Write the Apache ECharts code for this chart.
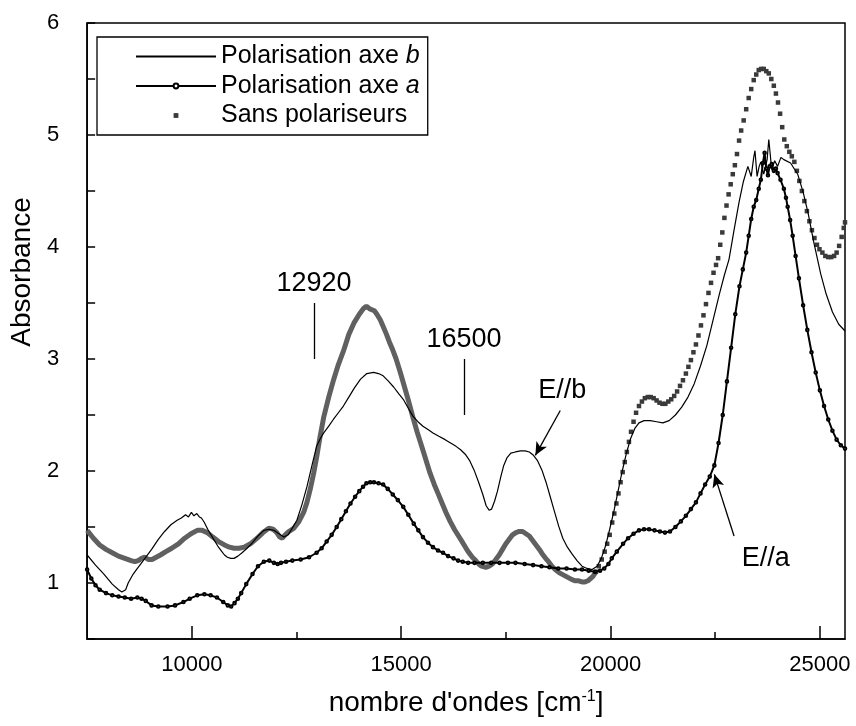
<!DOCTYPE html>
<html>
<head>
<meta charset="utf-8">
<title>Absorbance polarisée</title>
<script src="https://cdn.jsdelivr.net/npm/echarts@6/dist/echarts.min.js"></script>
<style>
  html, body { margin: 0; padding: 0; background: #fff; }
  #chart { width: 856px; height: 726px; }
</style>
</head>
<body>
<div id="chart"></div>
<script>
// Spectres d'absorbance (nombre d'ondes en cm-1)

// Polarisation axe b
const polBX = [7500,7700,7900,8100,8250,8330,8420,8480,8600,8700,8800,8920,9040,9200,9350,9500,9650,9750,9850,9920,9990,10050,10120,10180,10230,10300,10380,10460,10540,10620,10700,10780,10850,10930,11010,11100,11200,11320,11450,11580,11720,11850,11960,12080,12200,12300,12400,12510,12630,12750,12870,12980,13070,13150,13270,13380,13500,13620,13750,13880,14030,14180,14340,14460,14570,14700,14820,14940,15050,15170,15280,15400,15520,15640,15760,15900,16050,16180,16310,16420,16530,16640,16740,16850,16950,17030,17100,17160,17230,17300,17380,17450,17530,17620,17730,17850,17960,18060,18160,18260,18360,18460,18560,18660,18760,18860,18970,19080,19200,19320,19440,19560,19680,19780,19880,19980,20080,20180,20280,20380,20480,20580,20680,20800,20950,21100,21250,21400,21550,21700,21850,22000,22150,22300,22450,22600,22720,22830,22950,23070,23170,23280,23360,23420,23450,23500,23550,23590,23660,23740,23780,23850,23920,23990,24070,24140,24300,24470,24600,24720,24850,25020,25150,25300,25450,25600];
const polBY = [1.25,1.16,1.08,0.99,0.94,0.92,0.94,1.00,1.08,1.13,1.18,1.24,1.30,1.39,1.46,1.52,1.56,1.58,1.61,1.59,1.63,1.60,1.62,1.59,1.58,1.54,1.48,1.43,1.38,1.33,1.29,1.25,1.23,1.22,1.22,1.24,1.27,1.31,1.36,1.42,1.47,1.48,1.47,1.44,1.41,1.43,1.49,1.56,1.70,1.86,2.05,2.22,2.29,2.34,2.40,2.46,2.52,2.58,2.66,2.74,2.82,2.87,2.88,2.87,2.85,2.80,2.75,2.69,2.64,2.56,2.49,2.44,2.40,2.37,2.34,2.31,2.28,2.25,2.22,2.19,2.15,2.09,2.01,1.90,1.79,1.69,1.65,1.66,1.73,1.82,1.95,2.05,2.12,2.16,2.17,2.18,2.18,2.17,2.14,2.09,2.01,1.90,1.77,1.64,1.51,1.40,1.32,1.26,1.20,1.15,1.13,1.12,1.15,1.22,1.33,1.48,1.64,1.82,2.00,2.16,2.29,2.38,2.43,2.45,2.45,2.44,2.43,2.45,2.50,2.57,2.66,2.78,2.94,3.12,3.35,3.58,3.75,3.89,4.15,4.40,4.58,4.72,4.63,4.80,4.86,4.63,4.72,4.76,4.65,4.78,4.96,4.69,4.77,4.72,4.80,4.78,4.75,4.65,4.49,4.30,4.05,3.76,3.58,3.42,3.31,3.25];

// Polarisation axe a
const polAX = [7500,7600,7700,7800,7950,8100,8250,8400,8550,8700,8800,8900,9040,9200,9420,9600,9800,9950,10130,10300,10450,10600,10750,10860,10940,11020,11100,11180,11300,11450,11580,11720,11850,11960,12050,12130,12250,12400,12600,12800,12980,13100,13220,13340,13460,13570,13680,13790,13900,14000,14090,14170,14260,14350,14460,14570,14680,14800,14920,15050,15170,15300,15410,15520,15640,15760,15880,16000,16120,16250,16360,16470,16600,16750,16950,17150,17350,17550,17730,17950,18150,18350,18540,18750,18950,19150,19320,19480,19630,19750,19850,19950,20030,20150,20300,20420,20550,20680,20800,20920,21050,21180,21300,21420,21550,21680,21800,21920,22040,22150,22260,22370,22480,22580,22680,22780,22880,22980,23080,23160,23240,23300,23360,23420,23480,23540,23590,23640,23680,23720,23760,23800,23850,23900,23950,23990,24060,24140,24190,24230,24290,24350,24420,24500,24600,24700,24800,24900,25000,25100,25200,25300,25400,25500,25600];
const polAY = [1.12,1.04,0.98,0.94,0.91,0.89,0.88,0.87,0.86,0.87,0.86,0.84,0.80,0.79,0.79,0.80,0.83,0.86,0.89,0.90,0.89,0.87,0.83,0.80,0.79,0.82,0.86,0.91,0.99,1.08,1.15,1.19,1.20,1.18,1.17,1.18,1.19,1.20,1.21,1.23,1.27,1.31,1.37,1.43,1.50,1.57,1.64,1.71,1.77,1.82,1.86,1.89,1.90,1.90,1.89,1.88,1.84,1.79,1.74,1.68,1.61,1.53,1.47,1.41,1.36,1.32,1.29,1.27,1.24,1.22,1.20,1.19,1.18,1.18,1.18,1.18,1.18,1.18,1.18,1.17,1.16,1.15,1.14,1.13,1.13,1.12,1.12,1.11,1.10,1.11,1.13,1.17,1.22,1.28,1.35,1.40,1.44,1.47,1.48,1.48,1.47,1.46,1.45,1.46,1.50,1.55,1.60,1.66,1.72,1.80,1.88,1.95,2.05,2.25,2.50,2.80,3.10,3.40,3.65,3.80,3.95,4.10,4.25,4.36,4.42,4.52,4.60,4.75,4.84,4.70,4.64,4.72,4.74,4.68,4.70,4.66,4.60,4.52,4.44,4.36,4.24,4.10,3.92,3.72,3.48,3.26,3.06,2.88,2.72,2.58,2.46,2.36,2.28,2.23,2.20];

// Sans polariseurs : zone dense (trait épais)
const sansDenseX = [7500,7650,7800,7950,8100,8250,8400,8550,8640,8720,8800,8880,8960,9050,9150,9250,9380,9520,9680,9830,9980,10130,10250,10370,10500,10640,10780,10900,11010,11130,11250,11400,11560,11700,11840,11940,12030,12100,12160,12230,12320,12440,12560,12670,12750,12830,12910,12980,13060,13150,13270,13390,13500,13620,13750,13870,14000,14100,14170,14240,14300,14360,14420,14500,14570,14650,14720,14800,14880,14980,15080,15180,15280,15380,15490,15590,15690,15790,15880,15980,16070,16170,16270,16370,16470,16550,16620,16700,16780,16850,16920,17020,17100,17180,17260,17340,17420,17500,17580,17660,17740,17820,17900,17980,18060,18140,18220,18300,18370,18450,18520,18600,18680,18780,18880,18980,19080,19160,19240,19320,19390,19460,19520,19580,19650];
const sansDenseY = [1.47,1.40,1.34,1.30,1.27,1.24,1.22,1.20,1.19,1.20,1.22,1.23,1.21,1.21,1.23,1.25,1.28,1.31,1.35,1.40,1.44,1.47,1.47,1.45,1.41,1.37,1.34,1.32,1.31,1.31,1.32,1.35,1.40,1.45,1.49,1.48,1.45,1.41,1.40,1.43,1.46,1.49,1.55,1.63,1.72,1.84,1.98,2.12,2.30,2.48,2.66,2.82,2.95,3.07,3.22,3.32,3.40,3.45,3.47,3.45,3.44,3.43,3.40,3.35,3.29,3.22,3.15,3.08,3.00,2.88,2.75,2.62,2.48,2.35,2.22,2.10,1.98,1.88,1.80,1.71,1.63,1.55,1.48,1.42,1.36,1.31,1.27,1.23,1.20,1.17,1.15,1.14,1.15,1.17,1.21,1.25,1.30,1.35,1.39,1.43,1.45,1.46,1.46,1.44,1.42,1.38,1.34,1.30,1.26,1.22,1.19,1.15,1.12,1.09,1.07,1.05,1.03,1.02,1.02,1.01,1.01,1.02,1.04,1.06,1.10];

// Sans polariseurs : points isolés
const sansDotX = [19650,19720,19790,19860,19920,19980,20040,20090,20140,20190,20240,20290,20340,20390,20440,20490,20550,20610,20680,20750,20820,20890,20960,21030,21100,21170,21240,21310,21380,21450,21520,21590,21660,21730,21800,21860,21920,21980,22040,22100,22160,22220,22280,22340,22400,22460,22520,22570,22620,22670,22720,22770,22820,22870,22920,22970,23020,23070,23120,23180,23240,23300,23360,23420,23480,23540,23600,23660,23720,23780,23840,23900,23950,24000,24050,24100,24150,24210,24270,24330,24390,24450,24510,24570,24630,24690,24750,24810,24870,24930,24990,25060,25130,25200,25270,25340,25400,25460,25520,25570,25600];
const sansDotY = [1.10,1.15,1.21,1.28,1.35,1.43,1.54,1.62,1.71,1.80,1.90,1.99,2.08,2.17,2.26,2.35,2.44,2.52,2.58,2.62,2.65,2.66,2.66,2.65,2.63,2.61,2.60,2.60,2.62,2.64,2.67,2.71,2.76,2.81,2.87,2.93,2.99,3.06,3.13,3.21,3.30,3.39,3.49,3.59,3.68,3.77,3.84,3.90,4.02,4.13,4.26,4.37,4.47,4.56,4.65,4.73,4.83,4.95,5.04,5.13,5.23,5.33,5.41,5.49,5.54,5.58,5.59,5.59,5.57,5.55,5.50,5.44,5.37,5.29,5.19,5.07,4.96,4.90,4.85,4.81,4.76,4.68,4.59,4.50,4.41,4.32,4.23,4.15,4.08,4.02,3.98,3.95,3.92,3.91,3.91,3.92,3.95,4.01,4.09,4.17,4.22];

// Graduations
const xMajorTicks = [10000, 15000, 20000, 25000];
const xMinorTicks = [12500, 17500, 22500];

// Repères de bandes et flèches (coordonnées en cm-1 / absorbance)
const bandMarks = [
  { text: '12920', x: 12920, from: 3.0, to: 3.5, textY: 3.67 },
  { text: '16500', x: 16500, from: 2.5, to: 3.0, textY: 3.17 }
];
const arrowMarks = [
  { text: 'E//b', tail: [18800, 2.54], head: [18205, 2.14], label: [18850, 2.72] },
  { text: 'E//a', tail: [22950, 1.42], head: [22480, 1.97], label: [23710, 1.22] }
];

const FONT = "'Liberation Sans', Arial, Helvetica, sans-serif";
const pairs = (xs, ys) => xs.map((x, i) => [x, ys[i]]);

const markLines = [];
bandMarks.forEach(m => markLines.push([
  { coord: [m.x, m.from], symbol: 'none' },
  { coord: [m.x, m.to], symbol: 'none' }
]));
arrowMarks.forEach(m => markLines.push([
  { coord: m.tail, symbol: 'none' },
  { coord: m.head, symbol: 'arrow', symbolSize: [9, 13] }
]));

const markTexts = bandMarks.map(m => ({ name: m.text, coord: [m.x, m.textY] }))
  .concat(arrowMarks.map(m => ({ name: m.text, coord: m.label })));

const chart = echarts.init(document.getElementById('chart'), null, { renderer: 'canvas' });

chart.setOption({
  animation: false,
  backgroundColor: '#fff',
  textStyle: { fontFamily: FONT, color: '#000' },
  grid: {
    left: 82, right: 11, top: 23, bottom: 87,
    show: true, borderColor: '#000', borderWidth: 1.5
  },
  legend: {
    orient: 'vertical',
    left: 97, top: 37,
    padding: [7, 8, 7, 38],
    itemWidth: 80, itemHeight: 6, itemGap: 4.5,
    borderColor: '#000', borderWidth: 1.3,
    selectedMode: false,
    textStyle: {
      fontSize: 25, color: '#000', fontFamily: FONT,
      rich: { it: { fontSize: 25, fontStyle: 'italic', fontFamily: FONT, color: '#000' } }
    },
    formatter: name => name.replace(/ ([ab])$/, ' {it|$1}'),
    data: [
      { name: 'Polarisation axe b', itemStyle: { opacity: 0 } },
      { name: 'Polarisation axe a' },
      { name: 'Sans polariseurs', lineStyle: { opacity: 0 } }
    ]
  },
  xAxis: [{
    type: 'value',
    min: 7500, max: 25600, interval: 2500,
    name: "nombre d'ondes [cm{sup|-1}]",
    nameLocation: 'middle', nameGap: 50,
    nameTextStyle: {
      fontSize: 28, color: '#000', fontFamily: FONT,
      rich: { sup: { fontSize: 16, verticalAlign: 'top', color: '#000', fontFamily: FONT } }
    },
    axisLine: { lineStyle: { color: '#000', width: 1.5 } },
    axisTick: { inside: true, length: 13, lineStyle: { color: '#000', width: 1.5 }, customValues: xMajorTicks },
    axisLabel: {
      fontSize: 22, color: '#000', margin: 15, fontFamily: FONT,
      customValues: xMajorTicks,
      formatter: v => String(v)
    },
    splitLine: { show: false }
  }, {
    type: 'value',
    min: 7500, max: 25600, interval: 2500,
    position: 'bottom',
    axisLine: { show: false },
    axisTick: { inside: true, length: 7, lineStyle: { color: '#000', width: 1.5 }, customValues: xMinorTicks },
    axisLabel: { show: false },
    splitLine: { show: false }
  }],
  yAxis: {
    type: 'value',
    min: 0.5, max: 6, interval: 0.5,
    name: 'Absorbance',
    nameLocation: 'middle', nameGap: 46,
    nameTextStyle: { fontSize: 28, color: '#000', fontFamily: FONT, padding: [0, 0, 0, 118] },
    axisLine: { lineStyle: { color: '#000', width: 1.5 } },
    axisTick: { inside: true, length: 8, lineStyle: { color: '#000', width: 1.5 } },
    axisLabel: {
      fontSize: 22, color: '#000', margin: 28, fontFamily: FONT,
      formatter: v => (Number.isInteger(v) ? String(v) : '')
    },
    splitLine: { show: false }
  },
  series: [
    {
      name: 'Polarisation axe b',
      type: 'line',
      data: pairs(polBX, polBY),
      showSymbol: false, symbol: 'none',
      lineStyle: { color: '#000', width: 1.2 },
      itemStyle: { color: '#000' },
      z: 3,
      markLine: {
        silent: true, animation: false,
        lineStyle: { type: 'solid', color: '#000', width: 1.3 },
        label: { show: false },
        data: markLines
      },
      markPoint: {
        silent: true, animation: false,
        symbol: 'circle', symbolSize: 0,
        label: { show: true, position: 'inside', formatter: '{b}', fontSize: 27, color: '#000', fontFamily: FONT },
        data: markTexts
      }
    },
    {
      name: 'Polarisation axe a',
      type: 'line',
      data: pairs(polAX, polAY),
      symbol: 'emptyCircle', symbolSize: 2.6, showAllSymbol: true,
      lineStyle: { color: '#000', width: 2 },
      itemStyle: { color: '#000', borderColor: '#000', borderWidth: 0.9 },
      z: 3
    },
    {
      name: 'Sans polariseurs',
      type: 'line',
      data: pairs(sansDotX, sansDotY),
      symbol: 'rect', symbolSize: 4.5, showAllSymbol: true,
      lineStyle: { width: 0, opacity: 0 },
      itemStyle: { color: '#3a3a3a' },
      z: 2
    },
    {
      name: 'Sans polariseurs',
      type: 'line',
      data: pairs(sansDenseX, sansDenseY),
      showSymbol: false, symbol: 'none',
      lineStyle: { color: '#606060', width: 5 },
      itemStyle: { color: '#606060' },
      z: 2
    }
  ]
});
</script>
</body>
</html>
